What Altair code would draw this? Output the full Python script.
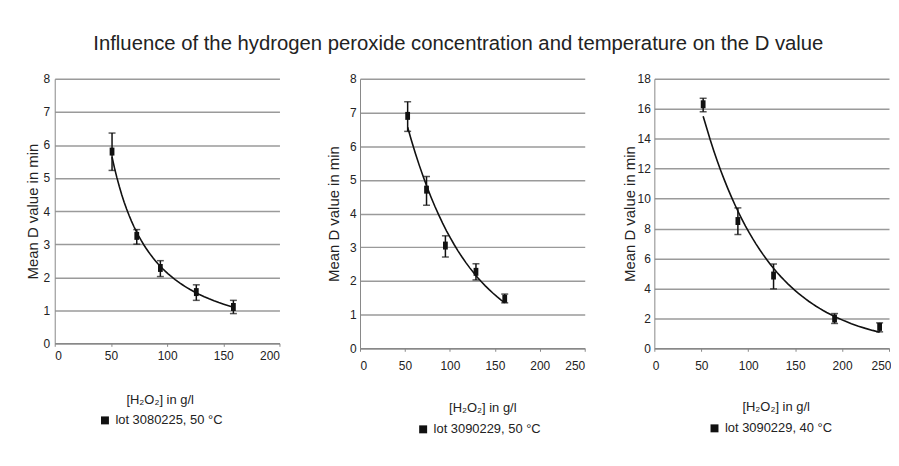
import altair as alt
import pandas as pd

FONT = "Liberation Sans"
TEXT = "#222222"

chart_title = "Influence of the hydrogen peroxide concentration and temperature on the D value"
y_title = "Mean D value in min"
x_title = "[H₂O₂] in g/l"

# Panel 1
conc_a = [51, 73, 94, 126, 159]
dval_a = [5.8, 3.25, 2.28, 1.55, 1.1]
low_a = [5.23, 3.0, 2.02, 1.3, 0.9]
high_a = [6.36, 3.44, 2.5, 1.77, 1.3]
lot_a = "lot 3080225, 50 °C"

# Panel 2
conc_b = [53, 74, 95, 129, 161]
dval_b = [6.9, 4.71, 3.05, 2.27, 1.47]
low_b = [6.44, 4.25, 2.71, 2.03, 1.35]
high_b = [7.32, 5.1, 3.34, 2.51, 1.61]
lot_b = "lot 3090229, 50 °C"

# Panel 3
conc_c = [52, 89, 127, 192, 240]
dval_c = [16.3, 8.5, 4.86, 1.99, 1.43]
low_c = [15.8, 7.6, 3.97, 1.66, 1.1]
high_c = [16.7, 9.38, 5.63, 2.32, 1.7]
lot_c = "lot 3090229, 40 °C"

MARKER = "M-0.6,-1H0.6V1H-0.6Z"


def panel(conc, dval, low, high, lot, method, xmax, ymax, ystep, w, h,
          y_lp, y_tp, x_lp, x_tp, x_tx, leg_x, leg_y, flush=False):
    df = pd.DataFrame({"conc": conc, "dval": dval, "low": low, "high": high,
                       "lot": [lot] * len(conc)})
    base = alt.Chart(df)
    xsc = alt.Scale(domain=[0, xmax], nice=False, zero=False, padding=0)
    ysc = alt.Scale(domain=[0, ymax], nice=False, zero=False, padding=0)
    xax_kw = dict(title=x_title, values=list(range(0, xmax + 1, 50)),
                  labelPadding=x_lp, titlePadding=x_tp, titleX=x_tx,
                  titleAlign="center", grid=False)
    if flush:
        xax_kw.update(labelFlush=True, labelFlushOffset=2)
    xax = alt.Axis(**xax_kw)
    yax = alt.Axis(title=y_title, values=list(range(0, ymax + 1, ystep)),
                   labelPadding=y_lp, titlePadding=y_tp, grid=True, ticks=False)
    X = alt.X("conc:Q", scale=xsc, axis=xax)

    curve = base.transform_regression("conc", "dval", method=method).mark_line(
        color="#111111", strokeWidth=1.6
    ).encode(x=X, y=alt.Y("dval:Q", scale=ysc, axis=yax))

    bars = base.mark_rule(color="#111111", strokeWidth=1.5).encode(
        x=X, y=alt.Y("low:Q", scale=ysc, axis=yax), y2="high:Q")
    cap_lo = base.mark_tick(color="#111111", orient="horizontal", size=7,
                            thickness=1.5).encode(
        x=X, y=alt.Y("low:Q", scale=ysc, axis=yax))
    cap_hi = base.mark_tick(color="#111111", orient="horizontal", size=7,
                            thickness=1.5).encode(
        x=X, y=alt.Y("high:Q", scale=ysc, axis=yax))
    pts = base.mark_point(shape=MARKER, filled=True, size=64, opacity=1,
                          strokeWidth=0).encode(
        x=X, y=alt.Y("dval:Q", scale=ysc, axis=yax),
        color=alt.Color("lot:N", scale=alt.Scale(range=["#111111"]),
                        legend=alt.Legend(title=None, orient="none",
                                          legendX=leg_x, legendY=leg_y,
                                          symbolType="square", symbolSize=64,
                                          symbolStrokeWidth=0, symbolOpacity=1,
                                          labelFontSize=13, labelColor=TEXT,
                                          labelFont=FONT)))
    return alt.layer(curve, bars, cap_lo, cap_hi, pts).properties(width=w, height=h)


p1 = panel(conc_a, dval_a, low_a, high_a, lot_a, "pow", 200, 8, 1, 226, 266,
           5, 2.5, 4, 33, 105.5, 44, 337)
p2 = panel(conc_b, dval_b, low_b, high_b, lot_b, "exp", 250, 8, 1, 226, 271,
           4, 7.8, 9, 31, 123, 57, 346)
p3 = panel(conc_c, dval_c, low_c, high_c, lot_c, "exp", 250, 18, 2, 236, 271,
           4, 0, 9, 30, 122, 54, 345, flush=True)

left = alt.hconcat(p1, p2, spacing=46).resolve_scale(
    color="independent", x="independent", y="independent")

chart = alt.hconcat(left, p3, spacing=36).resolve_scale(
    color="independent", x="independent", y="independent"
).properties(
    title=alt.TitleParams(chart_title, fontSize=20.4, fontWeight="normal",
                          font=FONT, color=TEXT, anchor="middle", offset=19),
    padding={"left": 17, "top": 24, "right": 0, "bottom": 5},
).configure_view(stroke=None).configure_axis(
    labelFont=FONT, titleFont=FONT, labelColor=TEXT, titleColor=TEXT,
    labelFontSize=12, gridColor="#9a9a9a", gridWidth=1.5,
    domainColor="#888888", tickColor="#888888",
).configure_axisX(
    titleFontSize=13, titleFontWeight="normal", domainWidth=1.5, tickSize=3,
).configure_axisY(
    titleFontSize=15, titleFontWeight="normal", domainWidth=1,
)

chart.save("out.html", embed_options={"renderer": "svg", "actions": False})
